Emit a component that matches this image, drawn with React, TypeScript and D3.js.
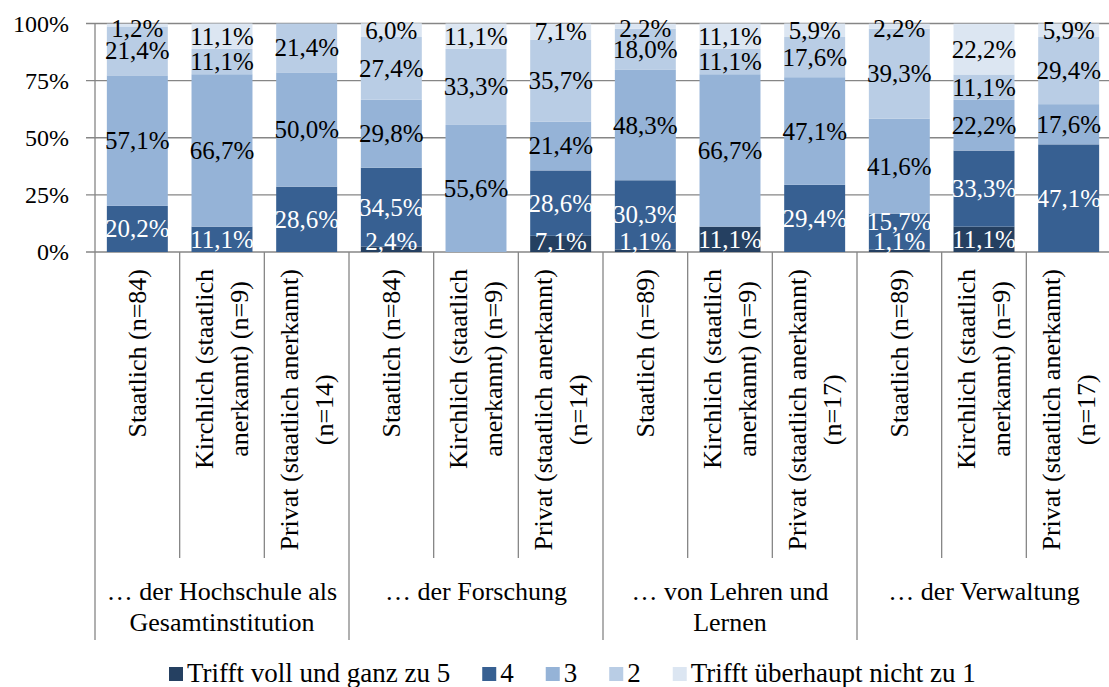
import React from "react";
import * as d3 from "d3";

const groups = ["… der Hochschule als\nGesamtinstitution", "… der Forschung", "… von Lehren und\nLernen", "… der Verwaltung"];
const categories = [
  "Staatlich (n=84)", "Kirchlich (staatlich\nanerkannt) (n=9)", "Privat (staatlich anerkannt)\n(n=14)",
  "Staatlich (n=84)", "Kirchlich (staatlich\nanerkannt) (n=9)", "Privat (staatlich anerkannt)\n(n=14)",
  "Staatlich (n=89)", "Kirchlich (staatlich\nanerkannt) (n=9)", "Privat (staatlich anerkannt)\n(n=17)",
  "Staatlich (n=89)", "Kirchlich (staatlich\nanerkannt) (n=9)", "Privat (staatlich anerkannt)\n(n=17)",
];
const seriesNames = ["Trifft voll und ganz zu 5", "4", "3", "2", "Trifft überhaupt nicht zu 1"];
const s5 = [0, 0, 0, 2.4, 0, 7.1, 1.1, 11.1, 0, 1.1, 11.1, 0];
const s4 = [20.2, 11.1, 28.6, 34.5, 0, 28.6, 30.3, 0, 29.4, 15.7, 33.3, 47.1];
const s3 = [57.1, 66.7, 50.0, 29.8, 55.6, 21.4, 48.3, 66.7, 47.1, 41.6, 22.2, 17.6];
const s2 = [21.4, 11.1, 21.4, 27.4, 33.3, 35.7, 18.0, 11.1, 17.6, 39.3, 11.1, 29.4];
const s1 = [1.2, 11.1, 0, 6.0, 11.1, 7.1, 2.2, 11.1, 5.9, 2.2, 22.2, 5.9];
const yTicks = [0, 25, 50, 75, 100];

const colors = ["#254061", "#376092", "#95B3D7", "#B9CDE5", "#DCE6F2"];
const labelColors = ["#ffffff", "#ffffff", "#000000", "#000000", "#000000"];
const FONT = "Liberation Serif, Tinos, Times New Roman, DejaVu Serif, serif";
const GRID = "#868686";

let ctx: CanvasRenderingContext2D | null = null;
function measure(text: string, size: number) {
  if (!ctx) ctx = document.createElement("canvas").getContext("2d");
  if (!ctx) return text.length * size * 0.45;
  ctx.font = `${size}px ${FONT}`;
  return ctx.measureText(text).width;
}

export default function App() {
  const W = 1109, H = 687;
  const left = 95, right = 1111, top = 23.5, bottom = 252;
  const x = d3.scaleBand<number>().domain(d3.range(categories.length)).range([left, right]).paddingInner(0.28).paddingOuter(0.14);
  const y = d3.scaleLinear().domain([0, 100]).range([bottom, top]);
  const step = x.step();

  const table = categories.map((c, i) => ({ i, v0: s5[i], v1: s4[i], v2: s3[i], v3: s2[i], v4: s1[i] }));
  const keys = ["v0", "v1", "v2", "v3", "v4"];
  const stack = d3.stack<any>().keys(keys)(table);

  const labels: any[] = [];
  categories.forEach((_, i) => {
    const ls: any[] = [];
    stack.forEach((layer, k) => {
      const d = layer[i];
      const v = d[1] - d[0];
      if (v > 0) ls.push({ k, v, yc: y((d[0] + d[1]) / 2) });
    });
    ls.forEach((l) => { l.yc = Math.max(28, Math.min(241, l.yc)); });
    for (let j = 1; j < ls.length; j++) if (ls[j].yc > ls[j - 1].yc - 20) ls[j].yc = ls[j - 1].yc - 20;
    for (let j = ls.length - 2; j >= 0; j--) if (ls[j].yc < ls[j + 1].yc + 20) ls[j].yc = ls[j + 1].yc + 20;
    ls.forEach((l) => labels.push({ ...l, i }));
  });

  const fmt = (v: number) => v.toFixed(1).replace(".", ",") + "%";

  const legSize = 27;
  let lx = 169;
  const legend = seriesNames.map((n, k) => {
    const item = { n, k, x: lx };
    lx += 18 + measure(n, legSize) + 32;
    return item;
  });

  const catSize = 26;
  const catLH = 35;

  return (
    <svg width={W} height={H} style={{ position: "absolute", left: 0, top: 0, background: "#fff" }} fontFamily={FONT}>
      {yTicks.map((t) => (
        <g key={t}>
          <line x1={86} x2={right} y1={y(t)} y2={y(t)} stroke={GRID} strokeWidth={1.3} />
          <text x={69} y={y(t)} textAnchor="end" dominantBaseline="central" fontSize={24}>{t}%</text>
        </g>
      ))}
      {stack.map((layer, k) => (
        <g key={k} fill={colors[k]}>
          {layer.map((d, i) => (d[1] - d[0] > 0 ? (
            <rect key={i} x={x(i)} y={y(d[1])} width={x.bandwidth()} height={y(d[0]) - y(d[1])} />
          ) : null))}
        </g>
      ))}
      {labels.map((l, j) => (
        <text key={j} x={(x(l.i) as number) + x.bandwidth() / 2} y={l.yc} textAnchor="middle" dominantBaseline="central" fontSize={25} fill={labelColors[l.k]}>
          {fmt(l.v)}
        </text>
      ))}
      <line x1={left} x2={left} y1={top} y2={640} stroke={GRID} strokeWidth={1.3} />
      {d3.range(1, categories.length + 1).map((i) => (
        <line key={i} x1={left + i * step} x2={left + i * step} y1={bottom} y2={i % 3 === 0 ? 640 : 558} stroke={GRID} strokeWidth={1.3} />
      ))}
      {categories.map((c, i) => {
        const lines = c.split("\n");
        const maxLen = d3.max(lines, (s) => measure(s, catSize)) as number;
        const cx = (x(i) as number) + x.bandwidth() / 2;
        return (
          <g key={i} transform={`translate(${cx},${269 + maxLen / 2}) rotate(-90)`}>
            {lines.map((s, j) => (
              <text key={j} x={0} y={(j - (lines.length - 1) / 2) * catLH} textAnchor="middle" dominantBaseline="central" fontSize={catSize}>{s}</text>
            ))}
          </g>
        );
      })}
      {groups.map((g, gi) => {
        const cx = left + (gi * 3 + 1.5) * step;
        return g.split("\n").map((s, j) => (
          <text key={gi + "-" + j} x={cx} y={591 + j * 31} textAnchor="middle" dominantBaseline="central" fontSize={26}>{s}</text>
        ));
      })}
      {legend.map((it) => (
        <g key={it.k}>
          <rect x={it.x} y={667} width={14} height={14} fill={colors[it.k]} />
          <text x={it.x + 18} y={673} dominantBaseline="central" fontSize={legSize}>{it.n}</text>
        </g>
      ))}
    </svg>
  );
}
